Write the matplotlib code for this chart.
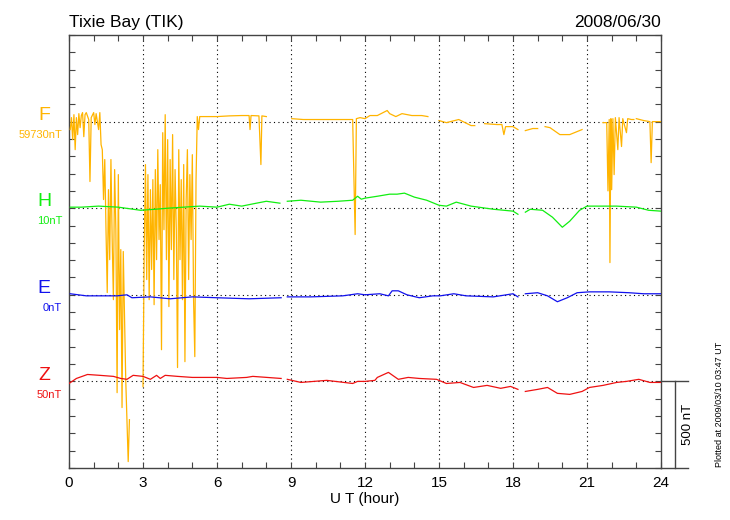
import numpy as np
import matplotlib
matplotlib.use("Agg")
import matplotlib.pyplot as plt
import matplotlib.transforms as mtransforms

nan = float("nan")

# station / date
station = "Tixie Bay (TIK)"
date_str = "2008/06/30"
plotted_str = "Plotted at 2009/03/10 03:47 UT"

# component names, baseline values and colours (top to bottom)
components = ["F", "H", "E", "Z"]
base_labels = ["59730nT", "10nT", "0nT", "50nT"]
offsets = [2000, 1500, 1000, 500]          # where each trace sits on the 0-2500 nT axis
colors = ["#ffb400", "#11ee11", "#1111ee", "#ee1111"]
scale_nT = 500

# F (deviation from baseline, nT)
f_t = [0.05, 0.1, 0.15, 0.2, 0.25, 0.3, 0.35, 0.4, 0.45, 0.5, 0.55, 0.6, 0.65, 0.7, 0.8, 0.85,
       0.9, 1.0, 1.05, 1.1, 1.2, 1.25, 1.3, 1.35, 1.4, 1.45, 1.5, 1.55, 1.6, 1.65, 1.7, 1.75,
       1.8, 1.85, 1.9, 1.95, 2.0, 2.05, 2.1, 2.15, 2.2, 2.3, 2.4, 2.45, 2.5,
       3.0, 3.05, 3.1, 3.15, 3.2, 3.25, 3.3, 3.35, 3.4, 3.45, 3.5, 3.55, 3.6, 3.65, 3.7, 3.75,
       3.8, 3.85, 3.9, 3.95, 4.0, 4.05, 4.1, 4.15, 4.2, 4.25, 4.3, 4.35, 4.4, 4.45, 4.5, 4.55,
       4.6, 4.65, 4.7, 4.75, 4.8, 4.85, 4.9, 4.95, 5.0, 5.05, 5.1, 5.15, 5.2, 5.25, 5.3,
       5.5, 6.0, 6.5, 7.0, 7.3, 7.34, 7.38, 7.7, 7.78, 7.82, 8.0, 8.05,
       9.03, 9.5, 10.0, 10.5, 11.0, 11.5, 11.6, 11.65, 11.8, 12.0, 12.2, 12.5, 12.9, 13.0,
       13.25, 13.5, 13.9, 14.3, 14.55, 14.6,
       15.0, 15.3, 15.8, 16.3, 16.45, 16.5,
       16.85, 17.35, 17.55, 17.63, 17.7, 18.0, 18.2, 18.25,
       18.5, 18.8, 19.0, 19.05,
       19.3, 19.5, 19.9, 20.3, 20.6, 20.8, 20.85,
       21.65, 21.8, 21.85, 21.9, 21.93, 21.97, 22.0, 22.05, 22.1, 22.15, 22.25, 22.3, 22.4,
       22.45, 22.6, 22.65, 22.8, 22.9, 22.95,
       23.0, 23.3, 23.55, 23.6, 23.65, 24.0]
f_v = [-46, 23, -104, 40, -162, 23, -75, 46, -35, 35, 52, -87, 40, 52, 12, -346,
       23, 52, -17, 46, -46, 52, -133, -162, -450, -219, -624, -987, -393, -797, -219, -681,
       -1028, -277, -624, -1565, -306, -1201, -739, -1651, -750, -1490, -1963, -1721, nan,
       -1530, -739, -248, -912, -306, -1028, -393, -854, -335, -1057, -277, -797, -162, -681, -364, -1317,
       -64, -624, 40, -797, -104, -1068, -219, -739, -75, -912, -277, -624, -1420, -162, -797, -335,
       -1028, -248, -1386, -450, -162, -912, -306, -681, -191, -1028, -1357, -335, 29, -46, 29,
       29, 29, 33, 35, 35, -46, 35, 33, -248, 33, 29, nan,
       17, 12, 12, 12, 12, 12, -652, 17, 23, 17, 35, 35, 64, 46,
       29, 46, 35, 35, 29, nan,
       6, -6, 12, -23, -23, nan,
       -12, -17, -17, -75, -29, -29, -46, nan,
       -52, -40, -40, nan,
       -29, -35, -75, -75, -58, -46, nan,
       -6, -6, -400, 12, -814, 17, -393, 17, -306, 23, -162, 23, -144,
       17, -64, 17, 12, 12, nan,
       17, 6, 0, -237, 0, 0]

# H
h_t = [0.05, 0.5, 1.2, 2.0, 2.9, 3.5, 4.0, 5.3, 6.0, 6.5, 7.0, 7.6, 8.0, 8.55, 8.7,
       8.85, 9.4, 10.2, 10.9, 11.5, 11.7, 11.85, 12.0, 12.5, 13.0, 13.3, 13.6, 14.0, 14.5,
       15.0, 15.3, 15.7, 16.3, 17.2, 18.0, 18.2, 18.35,
       18.5, 18.7, 19.2, 19.6, 20.0, 20.3, 20.7, 21.0, 21.5, 22.2, 23.0, 23.5, 24.0]
h_v = [6, 6, 12, 6, -12, -6, 0, 12, 6, 23, 12, 29, 40, 29, nan,
       40, 46, 35, 40, 46, 69, 52, 58, 69, 81, 81, 87, 64, 46,
       17, 12, 35, 12, -6, -17, -35, nan,
       -23, -6, -12, -52, -110, -75, -12, 12, 12, 12, 6, -12, -17]

# E
e_t = [0.05, 0.7, 1.95, 2.35, 2.55, 3.3, 4.1, 5.0, 6.0, 7.3, 8.6, 8.7,
       8.85, 9.8, 11.1, 11.7, 12.0, 12.6, 12.95, 13.1, 13.35, 13.7, 14.2, 14.75, 15.05,
       15.6, 16.1, 17.2, 18.0, 18.2, 18.35,
       18.5, 19.0, 19.4, 19.8, 20.2, 20.6, 21.1, 21.9, 22.7, 23.3, 24.0]
e_v = [6, -6, -6, 0, -17, -12, -23, -12, -17, -23, -17, nan,
       -12, -12, -6, 6, 0, 6, -6, 23, 23, 0, -17, -6, -6,
       6, -6, -12, 6, -12, nan,
       6, 12, -6, -40, -17, 12, 17, 17, 12, 6, 6]

# Z
z_t = [0.0, 0.3, 0.75, 1.25, 1.8, 2.1, 2.35, 2.6, 3.0, 3.3, 3.55, 3.7, 3.9, 4.4, 5.0,
       6.0, 6.4, 7.2, 7.45, 8.6, 8.7,
       8.85, 9.4, 10.45, 11.5, 11.7, 12.0, 12.4, 12.5, 12.95, 13.35, 13.75, 14.2, 14.9,
       15.3, 15.85, 16.4, 16.95, 17.5, 17.9, 18.2, 18.35,
       18.5, 19.0, 19.4, 19.8, 20.3, 20.8, 21.1, 21.65, 22.2, 22.6, 23.1, 23.55, 24.0]
z_v = [-12, 17, 40, 35, 29, 17, 12, 35, 29, 12, 35, 17, 35, 29, 23,
       23, 17, 23, 29, 17, nan,
       12, -6, 6, -12, 0, 0, 6, 23, 52, 12, 23, 17, 12,
       -12, -6, -35, -23, -40, -29, -46, nan,
       -58, -46, -35, -69, -75, -58, -35, -23, -6, 0, 12, -6, -6]

plt.rcParams["font.family"] = ["Liberation Sans", "DejaVu Sans"]

fig = plt.figure(figsize=(7.3, 5.2), dpi=100)
ax = fig.add_axes([69 / 730, 52 / 520, 592 / 730, 433 / 520])

series_t = [f_t, h_t, e_t, z_t]
series_v = [f_v, h_v, e_v, z_v]

# grid first so traces sit on top
for off in offsets:
    ax.axhline(off, color="black", ls=(0, (1, 3)), lw=0.8, zorder=1)
for h in range(3, 24, 3):
    ax.axvline(h, color="black", ls=(0, (1, 3)), lw=0.8, zorder=1)

for t, v, off, c in zip(series_t, series_v, offsets, colors):
    ax.plot(t, np.array(v, dtype=float) + off, color=c, lw=0.9, zorder=3)

ax.set_xlim(0, 24)
ax.set_ylim(0, 2500)
ax.set_xticks(range(0, 25, 3))
ax.set_xticks(range(0, 25), minor=True)
ax.set_yticks(range(0, 2501, 100))
ax.set_yticklabels([])
ax.tick_params(axis="both", which="both", direction="in", length=4, width=0.8,
               top=True, right=True, color="#444444")
ax.tick_params(axis="x", labelsize=11, pad=6)
for sp in ax.spines.values():
    sp.set_color("#444444")
    sp.set_linewidth(1.0)

ax.set_xlabel("U T (hour)", fontsize=11, labelpad=1)
ax.set_title(station, loc="left", fontsize=12.5, pad=6)
ax.set_title(date_str, loc="right", fontsize=12.5, pad=6)

# component letters and baseline values to the left
blend = mtransforms.blended_transform_factory(ax.transAxes, ax.transData)
for name, lab, off, c in zip(components, base_labels, offsets, colors):
    ax.annotate(name, xy=(0, off), xycoords=blend, xytext=(-18, 4.5),
                textcoords="offset points", ha="center", va="center",
                fontsize=14, color=c, annotation_clip=False)
    ax.annotate(lab, xy=(0, off), xycoords=blend, xytext=(-5, -9.5),
                textcoords="offset points", ha="right", va="center",
                fontsize=8, color=c, annotation_clip=False)

# 500 nT scale bar on the right
w = 592.0
ax.plot([1, 1 + 27 / w], [offsets[-1], offsets[-1]], transform=blend,
        color="#444444", lw=1.0, clip_on=False)
ax.plot([1, 1 + 27 / w], [0, 0], transform=blend,
        color="#444444", lw=1.0, clip_on=False)
ax.plot([1 + 14 / w, 1 + 14 / w], [0, scale_nT], transform=blend,
        color="#444444", lw=1.0, clip_on=False)
ax.text(1 + 27 / w, scale_nT / 2, f"{scale_nT} nT", transform=blend,
        rotation=90, ha="center", va="center", fontsize=9.5)

fig.text(720 / 730, 53 / 520, plotted_str, rotation=90, ha="center", va="bottom",
         fontsize=6.5)

fig.savefig("out.png", dpi=100)
